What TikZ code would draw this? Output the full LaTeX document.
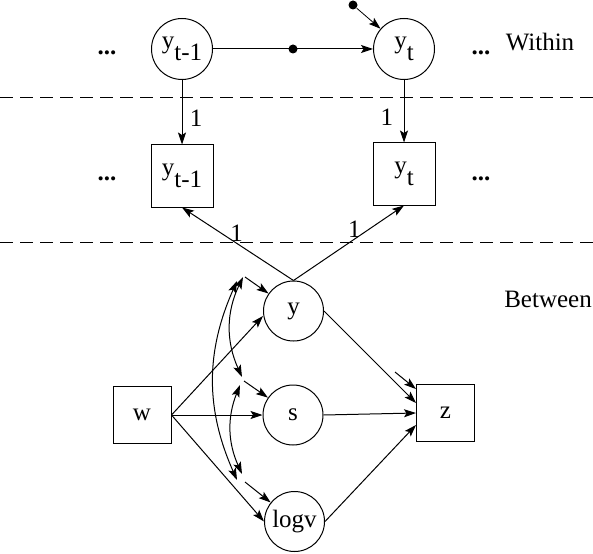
\documentclass[tikz,border=0pt]{standalone}
\usepackage{fontspec}
\setmainfont{Liberation Serif}
\usetikzlibrary{arrows.meta}

\begin{document}
\begin{tikzpicture}[x=1pt, y=-1pt, line width=1pt,
  >={Stealth[length=12pt,width=8pt,inset=2.5pt]},
  every node/.style={font=\fontsize{25}{29}\selectfont},
  latent/.style={draw, circle, inner sep=0pt, minimum size=61pt},
  observed/.style={draw, rectangle, inner sep=0pt, minimum width=62pt, minimum height=62pt},
  smallbox/.style={draw, rectangle, inner sep=0pt, minimum width=58pt, minimum height=57pt},
  blob/.style={circle, fill=black, inner sep=0pt, minimum size=9pt},
  divider/.style={dash pattern=on 13pt off 7pt}]
\useasboundingbox (0,0) rectangle (593,553);

% within part
\node[latent] (yw1) at (182,49) {y\raisebox{-0.5em}{t-1}};
\node[latent] (yw2) at (404,49) {y\raisebox{-0.5em}{t}};
\node[blob] (res) at (353,5) {};
\node[anchor=base] (dl1) at (107,55) {\textbf{...}};
\node[anchor=base] (dr1) at (481,55) {\textbf{...}};
\node[anchor=base] (within) at (540,51) {Within};
\draw[->] (yw1) -- node[blob] (ar) {} (yw2);
\draw[->, line width=0.8pt] (res) -- (yw2);

\draw[divider] (0,98) -- (593,98);

\node[observed] (yb1) at (182,176) {y\raisebox{-0.5em}{t-1}};
\node[observed] (yb2) at (404,174) {y\raisebox{-0.5em}{t}};
\node[anchor=base] (dl2) at (107,181) {\textbf{...}};
\node[anchor=base] (dr2) at (481,181) {\textbf{...}};
\draw[->] (yw1) -- node[pos=0.6, right=4pt] {1} (yb1);
\draw[->] (yw2) -- node[pos=0.6, left=7pt] {1} (yb2);

\draw[divider] (0,242) -- (593,242);

% between part
\node[latent, minimum size=60pt] (yB) at (293.5,311) {y};
\node[latent, minimum size=60pt] (sB) at (293,415) {s};
\node[latent, minimum size=60pt] (lB) at (294.5,521.5) {logv};
\node[smallbox] (wB) at (142,415) {w};
\node[smallbox] (zB) at (445.5,413) {z};
\node[anchor=base] (between) at (548,307) {Between};

\draw[->] (yB.north) -- node[pos=0.51, above=-2pt] {1} (yb1.south);
\draw[->] (yB.north) -- node[pos=0.55, above=-2pt] {1} (yb2.south);

\draw[->] (wB.east) -- ([yshift=-5pt]yB.west);
\draw[->] (wB.east) -- (sB.west);
\draw[->] (wB.east) -- (lB.west);
\draw[->] (yB.east) -- ([yshift=10pt]zB.west);
\draw[->] (sB.east) -- (zB.west);
\draw[->] (lB.east) -- ([yshift=-12pt]zB.west);

% residuals
\coordinate (ry) at (245,277);
\coordinate (rs) at (244,381);
\coordinate (rl) at (245,482);
\coordinate (rz) at (395,372);
\draw[->] (ry) -- (yB);
\draw[->] (rs) -- (sB);
\draw[->] (rl) -- (lB);
\draw[->] (rz) -- (zB);

\draw[<->] ([xshift=-2pt]ry) to[bend right=25] ([xshift=-2pt,yshift=4pt]rs);
\draw[<->] ([xshift=-8pt,yshift=-4pt]ry) to[bend right=24] ([xshift=-8pt,yshift=2pt]rl);
\draw[<->] ([xshift=-4pt,yshift=-4pt]rs) to[bend right=23] ([xshift=-3pt,yshift=8pt]rl);
\end{tikzpicture}
\end{document}
